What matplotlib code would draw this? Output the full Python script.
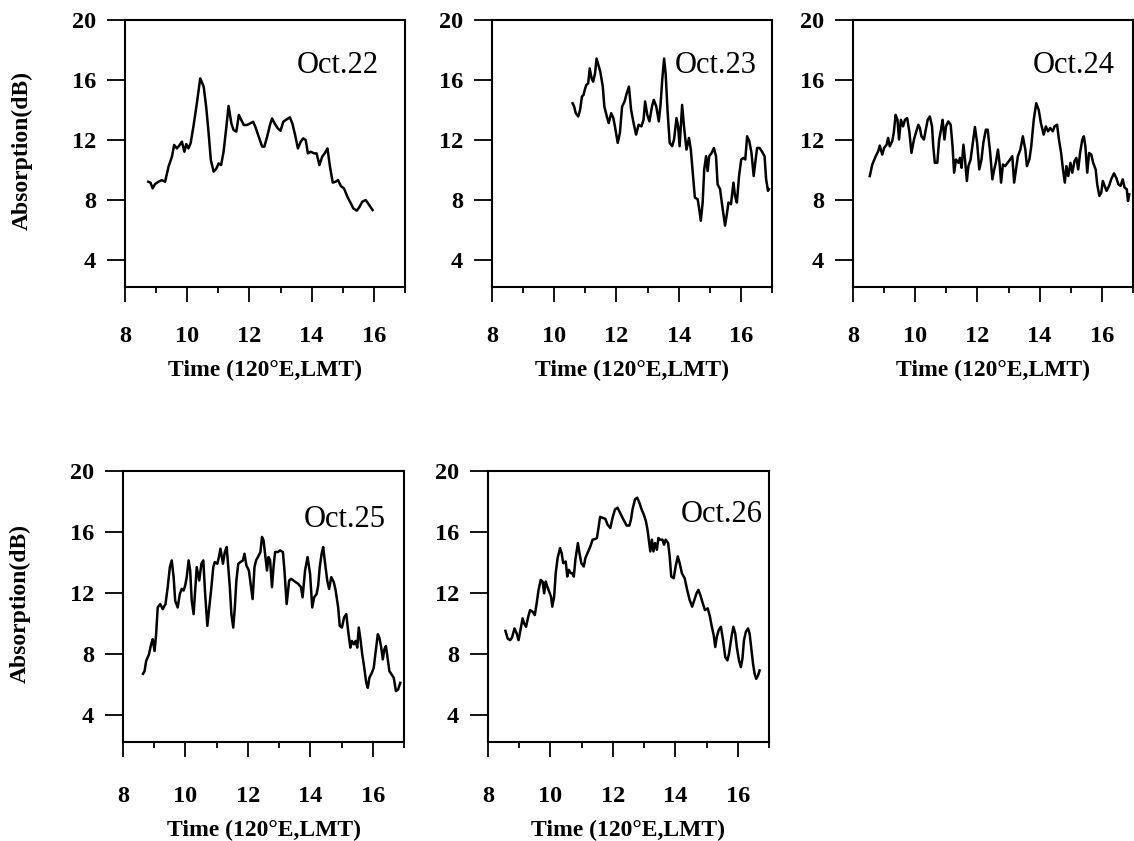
import matplotlib
matplotlib.use('Agg')
import matplotlib.pyplot as plt

plt.rcParams['font.family'] = ['Liberation Serif', 'DejaVu Serif']

# Oct.22
t22 = [8.75, 8.82, 8.89, 8.97, 9.08, 9.18, 9.29, 9.40, 9.51, 9.58,
       9.67, 9.76, 9.83, 9.91, 9.97, 10.04, 10.11, 10.20, 10.31, 10.42,
       10.53, 10.61, 10.69, 10.76, 10.85, 10.94, 11.01, 11.09, 11.17, 11.26,
       11.33, 11.42, 11.49, 11.58, 11.66, 11.74, 11.82, 11.92, 12.03, 12.12,
       12.19, 12.30, 12.41, 12.48, 12.57, 12.66, 12.73, 12.81, 12.91, 13.00,
       13.09, 13.20, 13.30, 13.38, 13.47, 13.56, 13.65, 13.73, 13.81, 13.88,
       13.97, 14.08, 14.16, 14.25, 14.34, 14.42, 14.51, 14.59, 14.68, 14.77,
       14.85, 14.94, 15.04, 15.15, 15.26, 15.34, 15.45, 15.53, 15.63, 15.74,
       15.85, 15.96]
a22 = [9.22, 9.16, 8.78, 9.07, 9.22, 9.33, 9.22, 10.22, 10.89, 11.67,
       11.44, 11.67, 11.89, 11.22, 11.73, 11.44, 11.78, 12.89, 14.44, 16.11,
       15.56, 14.22, 12.44, 10.67, 9.89, 10.11, 10.44, 10.33, 11.22, 12.89,
       14.27, 13.11, 12.67, 12.56, 13.67, 13.33, 13.00, 13.00, 13.11, 13.22,
       12.89, 12.22, 11.56, 11.56, 12.22, 13.00, 13.44, 13.11, 12.78, 12.62,
       13.22, 13.38, 13.51, 13.11, 12.33, 11.44, 11.89, 12.11, 12.00, 11.11,
       11.22, 11.11, 11.11, 10.33, 10.89, 11.11, 11.44, 10.22, 9.16, 9.22,
       9.33, 8.93, 8.78, 8.22, 7.78, 7.44, 7.29, 7.51, 7.89, 8.00,
       7.67, 7.33]

# Oct.23
t23 = [10.59, 10.64, 10.69, 10.77, 10.83, 10.89, 10.94, 10.98, 11.03, 11.09,
       11.14, 11.20, 11.25, 11.31, 11.36, 11.42, 11.48, 11.56, 11.61, 11.69,
       11.75, 11.83, 11.90, 11.95, 12.04, 12.11, 12.18, 12.26, 12.33, 12.40,
       12.47, 12.55, 12.63, 12.71, 12.80, 12.87, 12.92, 12.99, 13.06, 13.14,
       13.20, 13.28, 13.36, 13.42, 13.47, 13.53, 13.58, 13.64, 13.71, 13.79,
       13.85, 13.93, 13.98, 14.03, 14.11, 14.17, 14.25, 14.33, 14.39, 14.47,
       14.52, 14.61, 14.66, 14.71, 14.77, 14.82, 14.88, 14.93, 14.98, 15.06,
       15.13, 15.20, 15.25, 15.33, 15.40, 15.49, 15.54, 15.60, 15.68, 15.76,
       15.81, 15.87, 15.94, 16.01, 16.08, 16.14, 16.20, 16.27, 16.34, 16.41,
       16.46, 16.52, 16.60, 16.67, 16.76, 16.81, 16.87, 16.90]
a23 = [14.45, 14.23, 13.79, 13.57, 14.01, 14.90, 15.00, 15.34, 15.67, 15.78,
       16.77, 16.11, 15.89, 16.44, 17.43, 16.99, 16.55, 15.56, 14.23, 13.57,
       13.13, 13.79, 13.46, 12.91, 11.81, 12.47, 14.23, 14.57, 15.12, 15.56,
       14.01, 13.13, 12.36, 13.02, 12.91, 13.35, 14.57, 13.68, 13.24, 14.23,
       14.68, 14.23, 13.24, 14.45, 16.00, 17.43, 16.44, 14.01, 11.81, 11.59,
       12.03, 13.46, 12.91, 11.59, 14.34, 12.91, 11.36, 12.14, 11.36, 9.38,
       8.16, 8.05, 7.39, 6.62, 7.83, 10.04, 10.92, 9.93, 10.92, 11.14,
       11.47, 10.92, 9.05, 8.72, 7.61, 6.29, 6.95, 7.83, 7.72, 9.16,
       8.27, 7.83, 9.60, 10.70, 10.81, 10.70, 12.25, 11.92, 11.14, 9.60,
       10.48, 11.47, 11.47, 11.25, 10.92, 9.38, 8.61, 8.72]

# Oct.24
t24 = [8.54, 8.62, 8.73, 8.81, 8.86, 8.94, 9.00, 9.08, 9.13, 9.18,
       9.26, 9.31, 9.37, 9.43, 9.48, 9.54, 9.61, 9.67, 9.74, 9.81,
       9.88, 9.96, 10.02, 10.10, 10.15, 10.20, 10.28, 10.34, 10.40, 10.47,
       10.54, 10.58, 10.63, 10.71, 10.77, 10.83, 10.88, 10.94, 10.99, 11.06,
       11.14, 11.20, 11.25, 11.31, 11.39, 11.44, 11.49, 11.55, 11.60, 11.66,
       11.71, 11.78, 11.85, 11.92, 11.99, 12.06, 12.13, 12.19, 12.27, 12.33,
       12.41, 12.48, 12.54, 12.59, 12.66, 12.71, 12.76, 12.82, 12.89, 12.97,
       13.05, 13.12, 13.18, 13.24, 13.30, 13.38, 13.46, 13.54, 13.59, 13.67,
       13.73, 13.81, 13.89, 13.97, 14.04, 14.13, 14.20, 14.27, 14.34, 14.42,
       14.48, 14.56, 14.62, 14.69, 14.75, 14.81, 14.86, 14.92, 14.99, 15.05,
       15.12, 15.18, 15.24, 15.30, 15.37, 15.42, 15.47, 15.53, 15.59, 15.66,
       15.72, 15.80, 15.85, 15.92, 15.98, 16.03, 16.09, 16.15, 16.23, 16.30,
       16.39, 16.46, 16.53, 16.60, 16.67, 16.73, 16.80, 16.84, 16.88]
a24 = [9.60, 10.37, 10.92, 11.25, 11.63, 11.03, 11.47, 11.69, 12.14, 11.58,
       11.92, 12.47, 13.68, 13.35, 12.03, 13.35, 12.91, 13.35, 13.46, 12.58,
       11.14, 12.03, 12.47, 13.02, 12.80, 12.25, 12.03, 12.69, 13.35, 13.57,
       12.91, 11.58, 10.48, 10.48, 12.03, 12.69, 13.35, 12.03, 12.91, 13.24,
       13.02, 11.58, 9.82, 10.70, 10.48, 10.81, 10.15, 11.69, 10.70, 9.27,
       10.26, 10.70, 11.81, 12.87, 11.81, 10.04, 10.70, 11.81, 12.69, 12.69,
       11.14, 9.38, 10.04, 10.48, 11.36, 10.48, 9.16, 10.37, 10.26, 10.48,
       10.70, 10.92, 9.16, 10.04, 10.92, 11.36, 12.25, 11.36, 10.26, 10.70,
       11.58, 13.35, 14.45, 14.01, 13.13, 12.36, 12.91, 12.58, 12.80, 12.58,
       12.91, 13.02, 12.03, 11.14, 10.04, 9.16, 10.26, 9.60, 10.48, 9.82,
       10.59, 10.81, 10.04, 11.14, 12.03, 12.25, 11.58, 9.82, 11.14, 11.03,
       10.48, 10.04, 9.05, 8.27, 8.49, 9.27, 8.94, 8.61, 8.94, 9.38,
       9.78, 9.49, 9.05, 8.94, 9.38, 8.83, 8.72, 7.94, 8.38]

# Oct.25
t25 = [8.64, 8.69, 8.74, 8.83, 8.90, 8.95, 9.01, 9.06, 9.11, 9.19,
       9.27, 9.36, 9.43, 9.50, 9.56, 9.62, 9.67, 9.75, 9.82, 9.88,
       9.94, 9.99, 10.04, 10.10, 10.15, 10.20, 10.26, 10.31, 10.36, 10.44,
       10.51, 10.57, 10.63, 10.70, 10.75, 10.83, 10.89, 10.94, 11.02, 11.07,
       11.12, 11.20, 11.26, 11.32, 11.37, 11.42, 11.47, 11.53, 11.58, 11.63,
       11.69, 11.76, 11.84, 11.89, 11.95, 12.03, 12.10, 12.15, 12.21, 12.26,
       12.32, 12.40, 12.45, 12.50, 12.56, 12.61, 12.66, 12.71, 12.77, 12.82,
       12.87, 12.96, 13.03, 13.12, 13.17, 13.24, 13.32, 13.38, 13.46, 13.53,
       13.61, 13.70, 13.75, 13.83, 13.91, 13.99, 14.06, 14.12, 14.20, 14.25,
       14.30, 14.36, 14.41, 14.46, 14.54, 14.60, 14.67, 14.75, 14.81, 14.89,
       14.94, 15.01, 15.08, 15.15, 15.21, 15.28, 15.33, 15.39, 15.45, 15.50,
       15.55, 15.61, 15.66, 15.71, 15.79, 15.84, 15.89, 15.97, 16.03, 16.08,
       16.16, 16.21, 16.27, 16.32, 16.37, 16.42, 16.47, 16.53, 16.60, 16.67,
       16.74, 16.81, 16.88]
a25 = [6.68, 6.86, 7.52, 7.96, 8.62, 8.95, 8.18, 9.28, 11.04, 11.26,
       10.93, 11.26, 12.37, 13.69, 14.13, 13.03, 11.48, 11.04, 11.93, 12.26,
       12.15, 12.48, 13.03, 14.13, 13.47, 11.48, 10.60, 12.15, 13.69, 12.81,
       13.91, 14.13, 11.93, 9.83, 10.82, 12.37, 13.69, 14.02, 13.91, 14.35,
       14.90, 13.91, 14.68, 15.01, 13.69, 12.37, 10.60, 9.72, 11.04, 12.81,
       13.91, 14.02, 14.13, 14.57, 13.80, 13.47, 12.37, 11.59, 13.69, 14.13,
       14.35, 14.68, 15.67, 15.45, 14.35, 13.47, 14.35, 14.13, 12.37, 13.69,
       14.68, 14.68, 14.79, 14.68, 13.47, 11.26, 12.81, 12.92, 12.81, 12.70,
       12.59, 12.37, 11.70, 13.47, 14.35, 13.25, 11.04, 11.70, 11.93, 12.48,
       13.69, 14.57, 15.01, 14.13, 12.81, 12.26, 13.03, 12.70, 12.15, 11.04,
       9.83, 9.72, 10.38, 10.60, 9.50, 8.40, 8.84, 8.62, 8.84, 8.40,
       9.72, 8.84, 7.96, 7.30, 6.09, 5.76, 6.42, 6.75, 7.08, 7.96,
       9.28, 9.06, 8.40, 7.63, 8.29, 8.51, 7.74, 6.86, 6.64, 6.42,
       5.54, 5.65, 6.09]

# Oct.26
t26 = [8.56, 8.63, 8.71, 8.77, 8.85, 8.92, 8.98, 9.04, 9.11, 9.16,
       9.22, 9.29, 9.35, 9.43, 9.50, 9.56, 9.62, 9.69, 9.75, 9.80,
       9.85, 9.90, 9.96, 10.02, 10.06, 10.12, 10.17, 10.23, 10.31, 10.36,
       10.41, 10.49, 10.54, 10.59, 10.65, 10.70, 10.75, 10.80, 10.88, 10.93,
       10.99, 11.07, 11.12, 11.21, 11.28, 11.35, 11.44, 11.49, 11.54, 11.59,
       11.67, 11.76, 11.83, 11.92, 11.99, 12.07, 12.15, 12.23, 12.34, 12.44,
       12.53, 12.58, 12.63, 12.71, 12.78, 12.85, 12.92, 12.99, 13.06, 13.11,
       13.15, 13.20, 13.25, 13.30, 13.35, 13.41, 13.46, 13.52, 13.59, 13.64,
       13.69, 13.77, 13.82, 13.87, 13.95, 14.01, 14.08, 14.14, 14.21, 14.30,
       14.38, 14.46, 14.54, 14.61, 14.68, 14.74, 14.80, 14.88, 14.95, 15.04,
       15.11, 15.17, 15.23, 15.28, 15.33, 15.39, 15.46, 15.53, 15.60, 15.67,
       15.72, 15.80, 15.86, 15.92, 15.97, 16.04, 16.10, 16.15, 16.20, 16.26,
       16.33, 16.38, 16.43, 16.49, 16.54, 16.59, 16.65, 16.70]
a26 = [9.50, 9.00, 8.89, 9.06, 9.66, 9.33, 8.89, 9.55, 10.32, 9.99,
       9.77, 10.43, 10.87, 10.76, 10.54, 11.31, 12.19, 12.85, 12.74, 11.97,
       12.74, 12.41, 12.08, 11.75, 11.09, 11.75, 13.29, 14.28, 14.94, 14.61,
       13.95, 14.06, 13.07, 13.51, 13.29, 13.29, 13.07, 14.17, 15.27, 14.61,
       13.95, 13.73, 14.28, 14.72, 15.05, 15.49, 15.54, 15.60, 16.26, 16.99,
       16.93, 16.86, 16.48, 16.26, 16.93, 17.48, 17.59, 17.26, 16.81, 16.42,
       16.42, 16.81, 17.48, 18.14, 18.25, 17.92, 17.48, 17.15, 16.70, 16.15,
       15.49, 14.72, 15.49, 14.72, 15.27, 14.83, 15.60, 15.49, 15.49, 15.16,
       15.49, 15.27, 14.39, 13.07, 12.96, 13.73, 14.39, 13.95, 13.29, 12.96,
       12.19, 11.53, 11.09, 11.53, 11.97, 12.19, 11.86, 11.31, 10.87, 10.98,
       10.43, 9.77, 9.22, 8.44, 9.11, 9.55, 9.77, 8.89, 7.78, 7.56,
       8.00, 9.11, 9.77, 9.33, 8.44, 7.56, 7.12, 7.67, 8.89, 9.44,
       9.66, 9.33, 8.44, 7.34, 6.68, 6.35, 6.57, 6.90]

days = ['Oct.22', 'Oct.23', 'Oct.24', 'Oct.25', 'Oct.26']
yticks = [4, 8, 12, 16, 20]
xticks = [8, 10, 12, 14, 16]

fig = plt.figure(figsize=(11.34, 8.41), dpi=100)


def draw_panel(rect, t, a, day, txy, ylab, xpad):
    ax = fig.add_axes(rect)
    ax.plot(t, a, color='black', lw=1.8)
    ax.set_xlim(8, 17)
    ax.set_ylim(2.2, 20)
    ax.set_xticks(xticks)
    ax.set_xticks([9, 11, 13, 15, 17], minor=True)
    ax.set_yticks(yticks)
    ax.tick_params(axis='y', length=13, width=1.3, pad=8, labelsize=17.5)
    ax.tick_params(axis='x', which='major', length=11, width=1.3, pad=xpad, labelsize=17.5)
    ax.tick_params(axis='x', which='minor', length=4, width=1.3)
    for lab in ax.get_xticklabels() + ax.get_yticklabels():
        lab.set_fontweight('bold')
    for s in ax.spines.values():
        s.set_linewidth(1.5)
    ax.set_xlabel('Time (120\u00b0E,LMT)', fontsize=17, fontweight='bold', labelpad=9)
    if ylab:
        ax.set_ylabel('Absorption(dB)', fontsize=17, fontweight='bold')
        ax.yaxis.set_label_coords(-0.33, 0.51)
    ax.text(txy[0], txy[1], day, transform=ax.transAxes, fontsize=22,
            ha='center', va='center')
    return ax


draw_panel([0.1102, 0.6587, 0.2469, 0.3175], t22, a22, days[0], (0.76, 0.83), True, 17)
draw_panel([0.4339, 0.6587, 0.2469, 0.3175], t23, a23, days[1], (0.80, 0.83), False, 17)
draw_panel([0.7522, 0.6587, 0.2469, 0.3175], t24, a24, days[2], (0.79, 0.83), False, 17)
draw_panel([0.1085, 0.1177, 0.2478, 0.3222], t25, a25, days[3], (0.79, 0.82), True, 21)
draw_panel([0.4303, 0.1177, 0.2478, 0.3222], t26, a26, days[4], (0.83, 0.84), False, 21)

fig.savefig('out.png', dpi=100)
